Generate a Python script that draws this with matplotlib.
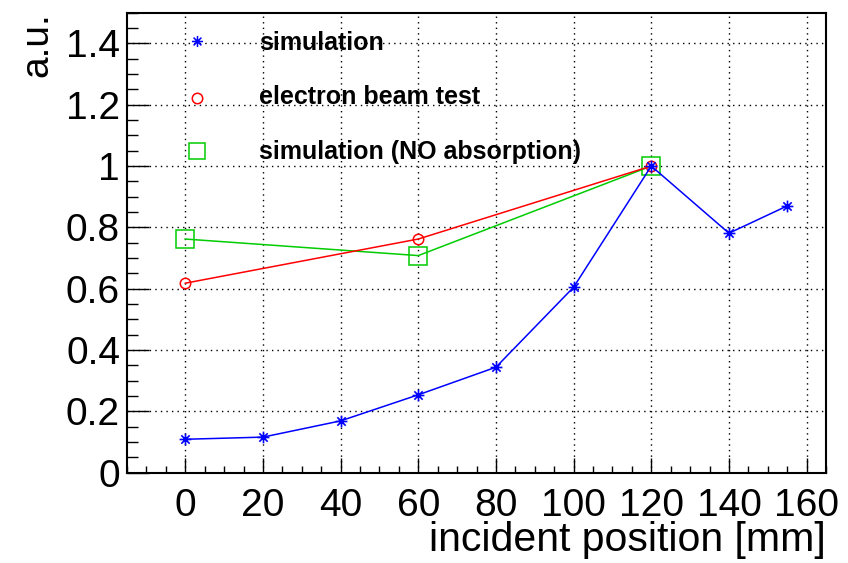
import matplotlib
matplotlib.use("Agg")
import matplotlib.pyplot as plt
from matplotlib.path import Path
from matplotlib.ticker import MultipleLocator, FuncFormatter

# ---- data ----
sim_x = [0, 20, 40, 60, 80, 100, 120, 140, 155]
sim_y = [0.109, 0.116, 0.169, 0.254, 0.344, 0.605, 1.0, 0.781, 0.870]

beam_x = [0, 60, 120]
beam_y = [0.618, 0.762, 1.0]

noabs_x = [0, 60, 120]
noabs_y = [0.762, 0.708, 1.0]

labels = ["simulation", "electron beam test", "simulation (NO absorption)"]

plt.rcParams['font.family'] = ['Liberation Sans', 'DejaVu Sans']

# asterisk marker: a "+" overlaid with an "x"
d = 0.7071
star = Path(
    [(-1, 0), (1, 0), (0, -1), (0, 1), (-d, -d), (d, d), (-d, d), (d, -d)],
    [Path.MOVETO, Path.LINETO] * 4,
)

BLUE = "#0000ff"
RED = "#ff0000"
GREEN = "#00cc00"

fig = plt.figure(figsize=(8.48, 5.63), dpi=100)
ax = fig.add_axes([0.1498, 0.1604, 0.8243, 0.8170])

ax.plot(noabs_x, noabs_y, color=GREEN, lw=1.1, marker="s", ms=12.5,
        mfc="none", mec=GREEN, mew=1.1, zorder=3)
ax.plot(beam_x, beam_y, color=RED, lw=1.1, marker="o", ms=7.5,
        mfc="none", mec=RED, mew=1.1, zorder=4)
ax.plot(sim_x, sim_y, color=BLUE, lw=1.1, marker=star, ms=8.5,
        mfc="none", mec=BLUE, mew=1.2, zorder=5)

ax.set_xlim(-15, 165)
ax.set_ylim(0, 1.5)

ax.xaxis.set_major_locator(MultipleLocator(20))
ax.xaxis.set_minor_locator(MultipleLocator(5))
ax.yaxis.set_major_locator(MultipleLocator(0.2))
ax.yaxis.set_minor_locator(MultipleLocator(0.05))
ax.yaxis.set_major_formatter(FuncFormatter(lambda v, p: f"{v:g}"))

ax.tick_params(axis="both", which="both", direction="in", width=1.0,
               color="black", labelsize=28)
ax.tick_params(axis="y", which="major", length=15.5, pad=5)
ax.tick_params(axis="y", which="minor", length=7.8)
ax.tick_params(axis="x", which="major", length=10.5, pad=11)
ax.tick_params(axis="x", which="minor", length=5.2)

for s in ax.spines.values():
    s.set_linewidth(1.5)

ax.grid(True, which="major", linestyle=(0, (1, 3)), color="black", lw=1.0)
ax.set_axisbelow(True)

ax.set_xlabel("incident position [mm]", fontsize=29.5, loc="right")
ax.xaxis.set_label_coords(1.0, -0.105)
ax.set_ylabel("a.u.", fontsize=28, loc="top")
ax.yaxis.set_label_coords(-0.103, 1.0)

# legend entries: marker + bold label
markers = [(star, 8, BLUE), ("o", 7.5, RED), ("s", 11.5, GREEN)]
marker_y = [0.9393, 0.8152, 0.6998]
text_y = [0.919, 0.8026, 0.683]
for (m, ms, c), my, ty, lab in zip(markers, marker_y, text_y, labels):
    ax.plot([0.1001], [my], ls="none", marker=m, ms=ms, mfc="none", mec=c,
            mew=1.1, transform=ax.transAxes, clip_on=False, zorder=6)
    ax.text(0.1888, ty, lab, transform=ax.transAxes, ha="left", va="baseline",
            fontsize=18, fontweight="bold", color="black", zorder=6)

fig.savefig("out.png", dpi=100)
